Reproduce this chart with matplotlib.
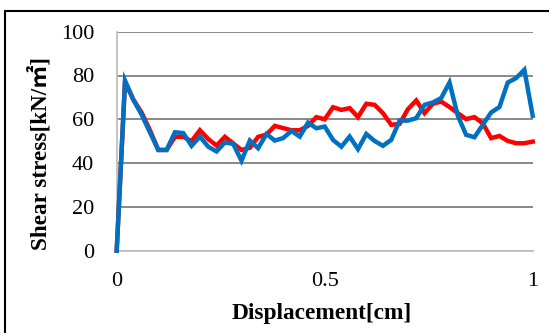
import numpy as np
import matplotlib
matplotlib.use('Agg')
import matplotlib.pyplot as plt
from matplotlib.patches import Rectangle

# displacement [cm], one reading every 0.02 cm
disp = [0.00, 0.02, 0.04, 0.06, 0.08, 0.10, 0.12, 0.14, 0.16, 0.18,
        0.20, 0.22, 0.24, 0.26, 0.28, 0.30, 0.32, 0.34, 0.36, 0.38,
        0.40, 0.42, 0.44, 0.46, 0.48, 0.50, 0.52, 0.54, 0.56, 0.58,
        0.60, 0.62, 0.64, 0.66, 0.68, 0.70, 0.72, 0.74, 0.76, 0.78,
        0.80, 0.82, 0.84, 0.86, 0.88, 0.90, 0.92, 0.94, 0.96, 0.98, 1.00]

# shear stress [kN/m2]
red_stress = [0, 77, 69, 63, 55, 46, 46, 52, 52, 50,
              55, 51, 48, 52, 49, 46, 47, 52, 53, 57,
              56, 55, 55, 57, 61, 60, 65.5, 64.3, 65.1, 61,
              67.1, 66.6, 62.8, 57.5, 57.9, 64.6, 68.6, 62.8, 67.1, 68.1,
              65.6, 62.8, 60.1, 61.0, 58.2, 51.4, 52.4, 50.1, 49.1, 49.1, 49.8]

blue_stress = [0, 77.7, 68.9, 62.1, 54, 46.0, 46.0, 54.1, 53.7, 47.9,
               52.1, 47.5, 45.3, 49.4, 48.8, 41.1, 50.3, 46.8, 53.3, 50.3,
               51.4, 54.7, 52.1, 58.5, 55.9, 56.7, 50.6, 47.5, 52.1, 46.4,
               53.3, 50.1, 47.9, 50.6, 59.4, 59.4, 60.5, 66.6, 67.7, 69.7,
               76.8, 61.6, 52.9, 51.8, 57.5, 63.1, 65.6, 76.8, 78.8, 82.6, 61.6]

yticks = [0, 20, 40, 60, 80, 100]
xticks = [0, 0.5, 1]
xticklabels = ['0', '0.5', '1']

plt.rcParams['font.family'] = ['Liberation Serif', 'Noto Sans CJK JP']

fig = plt.figure(figsize=(5.49, 3.33), dpi=100)
ax = fig.add_axes([116.7/549, 82.3/333, 416/549, 219/333])

ax.plot(disp, red_stress, color='#ff0000', lw=3.2, solid_joinstyle='miter', clip_on=False, zorder=3)
ax.plot(disp, blue_stress, color='#0070c0', lw=3.2, solid_joinstyle='miter', clip_on=False, zorder=4)

ax.set_xlim(0, 1)
ax.set_ylim(0, 100)
ax.set_yticks(yticks)
ax.set_xticks(xticks)
ax.set_xticklabels(xticklabels)
ax.yaxis.grid(True, color='#808080', lw=1.3)
ax.set_axisbelow(True)
ax.tick_params(length=0, labelsize=16)
ax.tick_params(axis='y', pad=16.3)
ax.tick_params(axis='x', pad=15)
for s in ['top', 'right']:
    ax.spines[s].set_visible(False)
for s in ['left', 'bottom']:
    ax.spines[s].set_color('#bfbfbf')
    ax.spines[s].set_linewidth(1.3)
ax.spines['bottom'].set_zorder(2.5)

fig.text(322/549, 1 - 313/333, 'Displacement[cm]', ha='center', va='center',
         fontsize=16.8, fontweight='bold')
fig.text(40/549, 1 - 154/333, 'Shear stress[kN/㎡]', ha='center', va='center',
         rotation=90, fontsize=16.7, fontweight='bold')

# chart frame (cropped on right and bottom)
fig.add_artist(Rectangle((5/549, -0.5), 1.5, 0.5 + 1 - 11/333, transform=fig.transFigure,
                         fill=False, ec='black', lw=1.5))

fig.savefig('out.png', dpi=100)
